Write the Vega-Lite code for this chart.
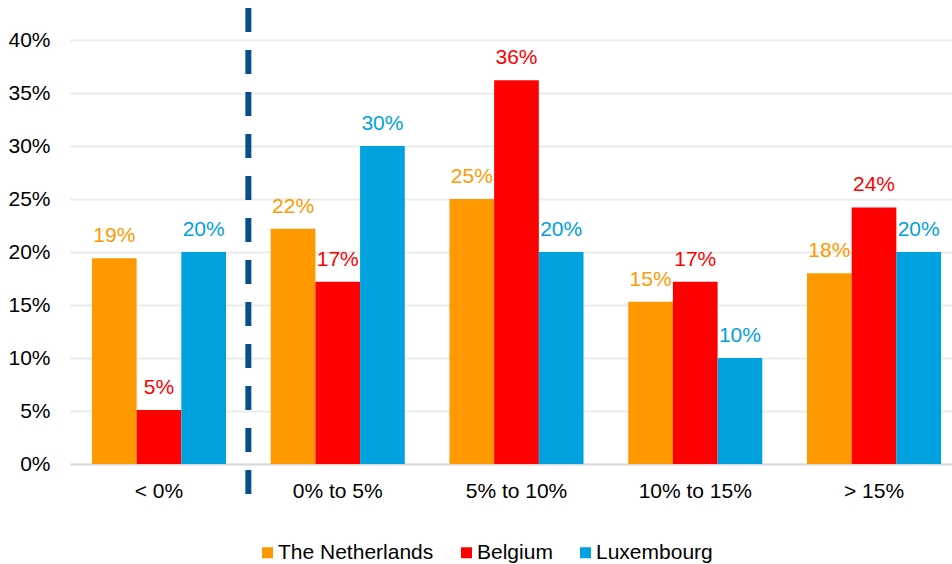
{
  "$schema": "https://vega.github.io/schema/vega-lite/v6.json",
  "width": 882,
  "height": 424,
  "autosize": {"type": "none"},
  "padding": {"left": 70, "top": 40, "right": 0, "bottom": 100},
  "background": "white",
  "config": {
    "font": "Liberation Sans",
    "view": {"stroke": null}
  },
  "data": {
    "values": [
      {"group": "< 0%", "country": "The Netherlands", "value": 0.194},
      {"group": "< 0%", "country": "Belgium", "value": 0.051},
      {"group": "< 0%", "country": "Luxembourg", "value": 0.200},
      {"group": "0% to 5%", "country": "The Netherlands", "value": 0.222},
      {"group": "0% to 5%", "country": "Belgium", "value": 0.172},
      {"group": "0% to 5%", "country": "Luxembourg", "value": 0.300},
      {"group": "5% to 10%", "country": "The Netherlands", "value": 0.250},
      {"group": "5% to 10%", "country": "Belgium", "value": 0.362},
      {"group": "5% to 10%", "country": "Luxembourg", "value": 0.200},
      {"group": "10% to 15%", "country": "The Netherlands", "value": 0.153},
      {"group": "10% to 15%", "country": "Belgium", "value": 0.172},
      {"group": "10% to 15%", "country": "Luxembourg", "value": 0.100},
      {"group": "> 15%", "country": "The Netherlands", "value": 0.180},
      {"group": "> 15%", "country": "Belgium", "value": 0.242},
      {"group": "> 15%", "country": "Luxembourg", "value": 0.200}
    ]
  },
  "layer": [
    {
      "mark": {"type": "bar"},
      "encoding": {
        "x": {
          "field": "group",
          "type": "nominal",
          "scale": {
            "domain": ["< 0%", "0% to 5%", "5% to 10%", "10% to 15%", "> 15%"],
            "paddingInner": 0.25,
            "paddingOuter": 0.092,
            "align": 0.667
          },
          "axis": {
            "title": null,
            "labelAngle": 0,
            "labelFontSize": 21,
            "labelColor": "#000000",
            "labelBaseline": "top",
            "labelPadding": 16,
            "ticks": false,
            "tickSize": 0,
            "domainColor": "#D9D9D9",
            "domainWidth": 2
          }
        },
        "xOffset": {
          "field": "country",
          "type": "nominal",
          "scale": {"domain": ["The Netherlands", "Belgium", "Luxembourg"], "paddingInner": 0, "paddingOuter": 0}
        },
        "y": {
          "field": "value",
          "type": "quantitative",
          "scale": {"domain": [0, 0.4], "nice": false},
          "axis": {
            "title": null,
            "format": ".0%",
            "values": [0, 0.05, 0.1, 0.15, 0.2, 0.25, 0.3, 0.35, 0.4],
            "labelFontSize": 21,
            "labelColor": "#000000",
            "labelPadding": 20,
            "ticks": false,
            "tickSize": 0,
            "domain": false,
            "gridColor": "#EBEBEB",
            "gridWidth": 2
          }
        },
        "color": {
          "field": "country",
          "type": "nominal",
          "scale": {
            "domain": ["The Netherlands", "Belgium", "Luxembourg"],
            "range": ["#FF9900", "#FF0000", "#00A1DF"]
          },
          "legend": {
            "orient": "none",
            "legendX": 187,
            "legendY": 502,
            "direction": "horizontal",
            "title": null,
            "symbolType": "square",
            "symbolSize": 121,
            "symbolStrokeWidth": 0,
            "labelFontSize": 21,
            "labelColor": "#000000",
            "columnPadding": 22,
            "labelOffset": 0,
            "padding": 0
          }
        }
      }
    },
    {
      "mark": {"type": "text", "baseline": "alphabetic", "align": "center", "dy": -16, "fontSize": 21},
      "encoding": {
        "x": {"field": "group", "type": "nominal"},
        "xOffset": {"field": "country", "type": "nominal"},
        "y": {"field": "value", "type": "quantitative"},
        "text": {"field": "value", "type": "quantitative", "format": ".0%"},
        "color": {"field": "country", "type": "nominal"}
      }
    },
    {
      "data": {"values": [{"k": 1}]},
      "mark": {"type": "rule", "color": "#0A4D8C", "strokeWidth": 6, "strokeDash": [24, 18]},
      "encoding": {
        "x": {"datum": "< 0%", "type": "nominal", "bandPosition": 1.1667},
        "y": {"datum": 0.4302, "type": "quantitative"},
        "y2": {"datum": -0.0283}
      }
    }
  ]
}
